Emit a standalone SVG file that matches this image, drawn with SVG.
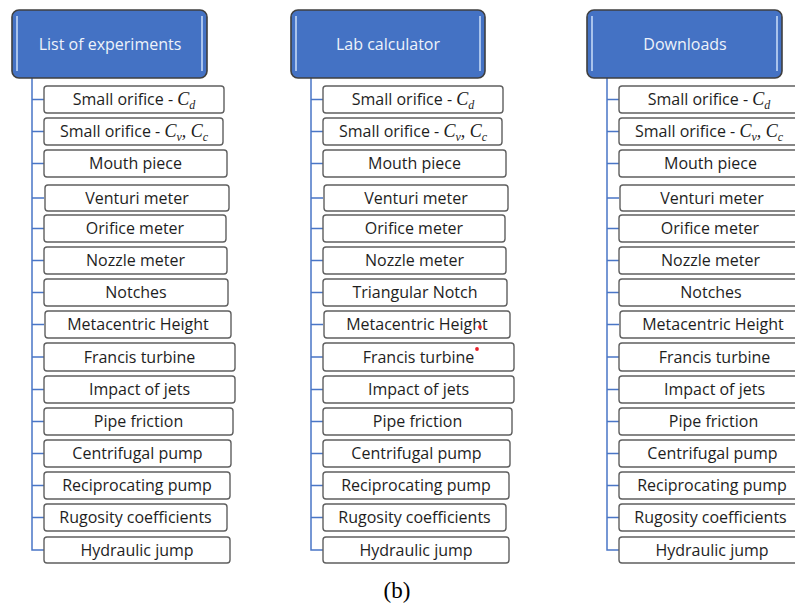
<svg xmlns="http://www.w3.org/2000/svg" width="795" height="608" viewBox="0 0 795 608">
<style>
.hd{fill:#4472C4;stroke:#3f3f3f;stroke-width:1.6}
.hl{stroke:#a9c3ec;stroke-width:2;fill:none}
.ht{font-family:"Open Sans","Liberation Sans",sans-serif;font-size:16px;fill:#eef2fa;text-anchor:middle}
.bx{fill:#ffffff;stroke:#5f5f5f;stroke-width:1.4}
.tx{font-family:"Open Sans","Liberation Sans",sans-serif;font-size:16px;fill:#1e1e1e;text-anchor:middle}
.m{font-family:"Liberation Serif","DejaVu Serif",serif;font-style:italic;font-size:18px}
.s{font-family:"Liberation Serif","DejaVu Serif",serif;font-style:italic;font-size:12px}
.cn{stroke:#4a76c6;stroke-width:1.5;fill:none}
.dot{fill:#e8202a}
.cap{font-family:"Liberation Serif","Times New Roman",serif;font-size:23px;fill:#000;text-anchor:middle}
</style>
<rect width="795" height="608" fill="#ffffff"/>
<g id="connectors">
<path class="cn" d="M32 78V550H44M32 99.5H44M32 131.5H44M32 163.5H44M32 198H44M32 228.5H44M32 260.5H44M32 292.5H44M32 324.5H44M32 357H44M32 389.5H44M32 421.5H44M32 453.5H44M32 485.5H44M32 517.5H44"/>
<path class="cn" transform="translate(279 0)" d="M32 78V550H44M32 99.5H44M32 131.5H44M32 163.5H44M32 198H44M32 228.5H44M32 260.5H44M32 292.5H44M32 324.5H44M32 357H44M32 389.5H44M32 421.5H44M32 453.5H44M32 485.5H44M32 517.5H44"/>
<path class="cn" transform="translate(575 0)" d="M32 78V550H44M32 99.5H44M32 131.5H44M32 163.5H44M32 198H44M32 228.5H44M32 260.5H44M32 292.5H44M32 324.5H44M32 357H44M32 389.5H44M32 421.5H44M32 453.5H44M32 485.5H44M32 517.5H44"/>
</g>
<g id="col1">
<g id="h1"><rect class="hd" x="12" y="10" width="195" height="68" rx="7"/><path class="hl" d="M17 16V71M202 16V71"/><text class="ht" x="110" y="50">List of experiments</text></g>
<g id="c1n1"><rect class="bx" x="44" y="86" width="180" height="27" rx="3"/><text class="tx" x="134" y="105">Small orifice - <tspan class="m">C</tspan><tspan class="s" dy="4">d</tspan></text></g>
<g id="c1n2"><rect class="bx" x="44" y="118" width="179" height="27" rx="3"/><text class="tx" x="134" y="137">Small orifice - <tspan class="m">C</tspan><tspan class="s" dy="4">v</tspan><tspan class="m" dy="-4">, C</tspan><tspan class="s" dy="4">c</tspan></text></g>
<g id="c1n3"><rect class="bx" x="44" y="150" width="183" height="27" rx="3"/><text class="tx" x="135.5" y="169">Mouth piece</text></g>
<g id="c1n4"><rect class="bx" x="45" y="185" width="184" height="26" rx="3"/><text class="tx" x="137" y="203.5">Venturi meter</text></g>
<g id="c1n5"><rect class="bx" x="44" y="215" width="182" height="27" rx="3"/><text class="tx" x="135" y="234">Orifice meter</text></g>
<g id="c1n6"><rect class="bx" x="44" y="247" width="183" height="27" rx="3"/><text class="tx" x="135.5" y="266">Nozzle meter</text></g>
<g id="c1n7"><rect class="bx" x="44" y="279" width="184" height="27" rx="3"/><text class="tx" x="136" y="298">Notches</text></g>
<g id="c1n8"><rect class="bx" x="45" y="311" width="186" height="27" rx="3"/><text class="tx" x="138" y="330">Metacentric Height</text></g>
<g id="c1n9"><rect class="bx" x="44" y="343" width="191" height="28" rx="3"/><text class="tx" x="139.5" y="362.5">Francis turbine</text></g>
<g id="c1n10"><rect class="bx" x="44" y="376" width="191" height="27" rx="3"/><text class="tx" x="139.5" y="395">Impact of jets</text></g>
<g id="c1n11"><rect class="bx" x="44" y="408" width="189" height="27" rx="3"/><text class="tx" x="138.5" y="427">Pipe friction</text></g>
<g id="c1n12"><rect class="bx" x="44" y="440" width="187" height="27" rx="3"/><text class="tx" x="137.5" y="459">Centrifugal pump</text></g>
<g id="c1n13"><rect class="bx" x="44" y="472" width="186" height="27" rx="3"/><text class="tx" x="137" y="491">Reciprocating pump</text></g>
<g id="c1n14"><rect class="bx" x="44" y="504" width="183" height="27" rx="3"/><text class="tx" x="135.5" y="523">Rugosity coefficients</text></g>
<g id="c1n15"><rect class="bx" x="44" y="537" width="186" height="26" rx="3"/><text class="tx" x="137" y="555.5">Hydraulic jump</text></g>
</g>
<g id="col2" transform="translate(279 0)">
<g id="h2"><rect class="hd" x="12" y="10" width="194" height="68" rx="7"/><path class="hl" d="M17 16V71M201 16V71"/><text class="ht" x="109" y="50">Lab calculator</text></g>
<g id="c2n1"><rect class="bx" x="44" y="86" width="180" height="27" rx="3"/><text class="tx" x="134" y="105">Small orifice - <tspan class="m">C</tspan><tspan class="s" dy="4">d</tspan></text></g>
<g id="c2n2"><rect class="bx" x="44" y="118" width="179" height="27" rx="3"/><text class="tx" x="134" y="137">Small orifice - <tspan class="m">C</tspan><tspan class="s" dy="4">v</tspan><tspan class="m" dy="-4">, C</tspan><tspan class="s" dy="4">c</tspan></text></g>
<g id="c2n3"><rect class="bx" x="44" y="150" width="183" height="27" rx="3"/><text class="tx" x="135.5" y="169">Mouth piece</text></g>
<g id="c2n4"><rect class="bx" x="45" y="185" width="184" height="26" rx="3"/><text class="tx" x="137" y="203.5">Venturi meter</text></g>
<g id="c2n5"><rect class="bx" x="44" y="215" width="182" height="27" rx="3"/><text class="tx" x="135" y="234">Orifice meter</text></g>
<g id="c2n6"><rect class="bx" x="44" y="247" width="183" height="27" rx="3"/><text class="tx" x="135.5" y="266">Nozzle meter</text></g>
<g id="c2n7"><rect class="bx" x="44" y="279" width="184" height="27" rx="3"/><text class="tx" x="136" y="298">Triangular Notch</text></g>
<g id="c2n8"><rect class="bx" x="45" y="311" width="186" height="27" rx="3"/><text class="tx" x="138" y="330">Metacentric Height</text><circle class="dot" cx="201" cy="327" r="1.9"/></g>
<g id="c2n9"><rect class="bx" x="44" y="343" width="191" height="28" rx="3"/><text class="tx" x="139.5" y="362.5">Francis turbine</text><circle class="dot" cx="198" cy="349" r="1.9"/></g>
<g id="c2n10"><rect class="bx" x="44" y="376" width="191" height="27" rx="3"/><text class="tx" x="139.5" y="395">Impact of jets</text></g>
<g id="c2n11"><rect class="bx" x="44" y="408" width="189" height="27" rx="3"/><text class="tx" x="138.5" y="427">Pipe friction</text></g>
<g id="c2n12"><rect class="bx" x="44" y="440" width="187" height="27" rx="3"/><text class="tx" x="137.5" y="459">Centrifugal pump</text></g>
<g id="c2n13"><rect class="bx" x="44" y="472" width="186" height="27" rx="3"/><text class="tx" x="137" y="491">Reciprocating pump</text></g>
<g id="c2n14"><rect class="bx" x="44" y="504" width="183" height="27" rx="3"/><text class="tx" x="135.5" y="523">Rugosity coefficients</text></g>
<g id="c2n15"><rect class="bx" x="44" y="537" width="186" height="26" rx="3"/><text class="tx" x="137" y="555.5">Hydraulic jump</text></g>
</g>
<g id="col3" transform="translate(575 0)">
<g id="h3"><rect class="hd" x="12" y="10" width="195" height="68" rx="7"/><path class="hl" d="M17 16V71M202 16V71"/><text class="ht" x="110" y="50">Downloads</text></g>
<g id="c3n1"><rect class="bx" x="44" y="86" width="180" height="27" rx="3"/><text class="tx" x="134" y="105">Small orifice - <tspan class="m">C</tspan><tspan class="s" dy="4">d</tspan></text></g>
<g id="c3n2"><rect class="bx" x="44" y="118" width="179" height="27" rx="3"/><text class="tx" x="134" y="137">Small orifice - <tspan class="m">C</tspan><tspan class="s" dy="4">v</tspan><tspan class="m" dy="-4">, C</tspan><tspan class="s" dy="4">c</tspan></text></g>
<g id="c3n3"><rect class="bx" x="44" y="150" width="183" height="27" rx="3"/><text class="tx" x="135.5" y="169">Mouth piece</text></g>
<g id="c3n4"><rect class="bx" x="45" y="185" width="184" height="26" rx="3"/><text class="tx" x="137" y="203.5">Venturi meter</text></g>
<g id="c3n5"><rect class="bx" x="44" y="215" width="182" height="27" rx="3"/><text class="tx" x="135" y="234">Orifice meter</text></g>
<g id="c3n6"><rect class="bx" x="44" y="247" width="183" height="27" rx="3"/><text class="tx" x="135.5" y="266">Nozzle meter</text></g>
<g id="c3n7"><rect class="bx" x="44" y="279" width="184" height="27" rx="3"/><text class="tx" x="136" y="298">Notches</text></g>
<g id="c3n8"><rect class="bx" x="45" y="311" width="186" height="27" rx="3"/><text class="tx" x="138" y="330">Metacentric Height</text></g>
<g id="c3n9"><rect class="bx" x="44" y="343" width="191" height="28" rx="3"/><text class="tx" x="139.5" y="362.5">Francis turbine</text></g>
<g id="c3n10"><rect class="bx" x="44" y="376" width="191" height="27" rx="3"/><text class="tx" x="139.5" y="395">Impact of jets</text></g>
<g id="c3n11"><rect class="bx" x="44" y="408" width="189" height="27" rx="3"/><text class="tx" x="138.5" y="427">Pipe friction</text></g>
<g id="c3n12"><rect class="bx" x="44" y="440" width="187" height="27" rx="3"/><text class="tx" x="137.5" y="459">Centrifugal pump</text></g>
<g id="c3n13"><rect class="bx" x="44" y="472" width="186" height="27" rx="3"/><text class="tx" x="137" y="491">Reciprocating pump</text></g>
<g id="c3n14"><rect class="bx" x="44" y="504" width="183" height="27" rx="3"/><text class="tx" x="135.5" y="523">Rugosity coefficients</text></g>
<g id="c3n15"><rect class="bx" x="44" y="537" width="186" height="26" rx="3"/><text class="tx" x="137" y="555.5">Hydraulic jump</text></g>
</g>
<text class="cap" x="397" y="598">(b)</text>
</svg>
